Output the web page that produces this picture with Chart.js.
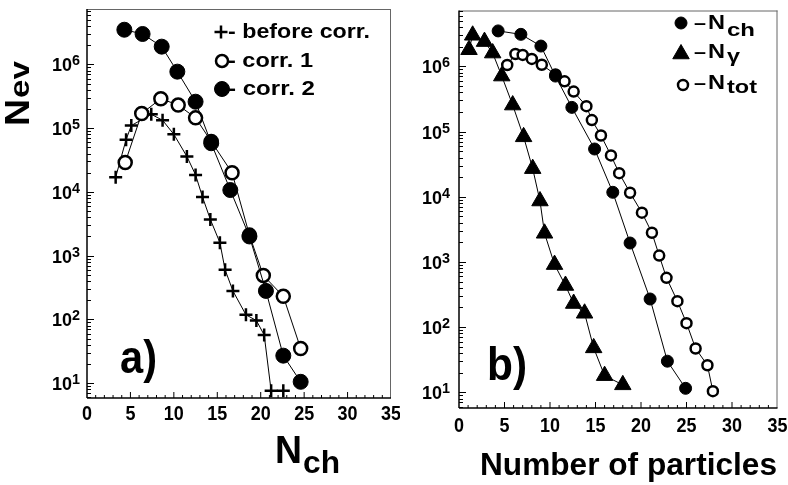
<!DOCTYPE html>
<html>
<head>
<meta charset="utf-8">
<script src="https://cdn.jsdelivr.net/npm/chart.js@4.4.1/dist/chart.umd.min.js"></script>
<style>
  body { margin: 0; background: #fff; }
  #wrap { position: relative; width: 788px; height: 485px; overflow: hidden; }
  #ca { position: absolute; left: 0; top: 0; }
  #cb { position: absolute; left: 400px; top: 0; }
</style>
</head>
<body>
<div id="wrap">
  <canvas id="ca" width="400" height="485"></canvas>
  <canvas id="cb" width="388" height="485"></canvas>
</div>
<script>
// panel a) : N_ev vs N_ch
var corr2X  = [4.3, 6.4, 8.6, 10.4, 12.5, 14.3, 16.5, 18.7, 20.6, 22.6, 24.6];
var corr2Y  = [3.5e6, 3.0e6, 1.9e6, 7.7e5, 2.6e5, 5.8e4, 1.07e4, 2.0e3, 280, 27, 10.5];
var corr1X  = [4.4, 6.3, 8.5, 10.5, 12.5, 14.3, 16.7, 18.7, 20.3, 22.6, 24.6];
var corr1Y  = [2.9e4, 1.7e5, 2.9e5, 2.3e5, 1.45e5, 6.2e4, 2.0e4, 2.1e3, 490, 230, 35];
var beforeX = [3.3, 4.5, 5.1, 7.4, 8.7, 10.0, 11.5, 12.5, 13.3, 14.2, 15.3, 15.9, 16.8, 18.3, 19.5, 20.4, 21.2, 22.6];
var beforeY = [1.7e4, 6.6e4, 1.1e5, 1.65e5, 1.33e5, 8.0e4, 3.6e4, 1.85e4, 8.3e3, 3.7e3, 1.6e3, 600, 280, 118, 96, 57, 7.6, 7.6];

// panel b) : number of particles
var nchX   = [4.3, 6.8, 9.0, 10.6, 12.4, 14.9, 16.9, 18.8, 21.0, 22.9, 24.9];
var nchY   = [3.5e6, 3.1e6, 2.05e6, 7.1e5, 2.35e5, 5.4e4, 1.17e4, 1.95e3, 270, 30, 11.5];
var ngamX  = [1.1, 1.5, 2.8, 3.7, 4.7, 5.9, 7.1, 8.1, 8.9, 9.4, 10.5, 11.7, 12.6, 13.8, 14.8, 16.0, 18.0];
var ngamY  = [1.8e6, 3.0e6, 2.4e6, 1.6e6, 7.1e5, 2.55e5, 8.3e4, 2.7e4, 8.6e3, 2.75e3, 910, 435, 230, 163, 48, 18, 13];
var ntotX  = [5.3, 6.2, 7.0, 8.0, 9.1, 10.6, 11.6, 12.6, 14.0, 14.6, 15.6, 16.7, 17.6, 18.8, 20.1, 21.2, 22.0, 22.8, 24.0, 25.0, 26.0, 27.3, 27.9];
var ntotY  = [1.05e6, 1.55e6, 1.5e6, 1.3e6, 1.06e6, 7.5e5, 5.9e5, 4.1e5, 2.45e5, 1.5e5, 8.7e4, 4.3e4, 2.3e4, 1.15e4, 5.7e3, 2.8e3, 1.25e3, 570, 250, 115, 47, 26, 10.4];

var xTicks = [0, 5, 10, 15, 20, 25, 30, 35];
var yExps  = [1, 2, 3, 4, 5, 6];

var FONT = '"Liberation Sans", Arial, sans-serif';

function pts(xs, ys) {
  return xs.map(function (x, i) { return { x: x, y: ys[i] }; });
}

// bold text, squeezed/stretched to width w if given
function txt(ctx, s, x, y, size, w, align) {
  ctx.font = 'bold ' + size + 'px ' + FONT;
  var m = ctx.measureText(s).width;
  var k = w ? w / m : 1;
  var x0 = align === 'center' ? x - m * k / 2 : (align === 'right' ? x - m * k : x);
  ctx.save();
  ctx.translate(x0, y);
  ctx.scale(k, 1);
  ctx.textAlign = 'left';
  ctx.textBaseline = 'alphabetic';
  ctx.fillStyle = '#000';
  ctx.fillText(s, 0, 0);
  ctx.restore();
}

function seg(ctx, x1, y1, x2, y2) {
  ctx.beginPath(); ctx.moveTo(x1, y1); ctx.lineTo(x2, y2); ctx.stroke();
}

function sym(ctx, style, r, x, y, fill, bw) {
  ctx.save();
  ctx.fillStyle = fill;
  ctx.strokeStyle = '#000';
  ctx.lineWidth = bw;
  Chart.helpers.drawPoint(ctx, { pointStyle: style, radius: r, borderWidth: bw, rotation: 0 }, x, y);
  ctx.restore();
}

// axes, inward ticks and labels
function axes(chart, o) {
  var ctx = chart.ctx, a = chart.chartArea, sx = chart.scales.x, sy = chart.scales.y;
  ctx.save();
  ctx.strokeStyle = '#666'; ctx.lineWidth = 1;
  seg(ctx, a.left, a.top + 0.5, a.right, a.top + 0.5);
  seg(ctx, a.right - 0.5, a.top, a.right - 0.5, a.bottom);
  ctx.strokeStyle = '#000'; ctx.lineWidth = 1.5;
  seg(ctx, a.left, a.top, a.left, a.bottom);
  seg(ctx, a.left, a.bottom, a.right, a.bottom);
  ctx.lineWidth = 1;
  for (var v = 1; v < 35; v++) {
    var px = sx.getPixelForValue(v);
    seg(ctx, px, a.bottom, px, a.bottom - (v % 5 ? 3 : 6));
  }
  for (var e = 0; e <= 7; e++) {
    for (var m = 1; m <= 9; m++) {
      var val = m * Math.pow(10, e);
      if (val < sy.min || val > sy.max) continue;
      var py = Math.round(sy.getPixelForValue(val)) + 0.5;
      seg(ctx, a.left, py, a.left + (m === 1 ? 7 : 4), py);
    }
  }
  ctx.restore();
  xTicks.forEach(function (t) {
    var s = String(t);
    txt(ctx, s, sx.getPixelForValue(t), a.bottom + o.xLab, 21, 10 * s.length, 'center');
  });
  yExps.forEach(function (e) {
    var py = sy.getPixelForValue(Math.pow(10, e));
    var xr = a.left - o.yGap;
    txt(ctx, String(e), xr, py + 1, 14, 8, 'right');
    txt(ctx, '10', xr - 8, py + 7, o.ySize, o.yW, 'right');
  });
}

var decorA = {
  id: 'decorA',
  afterDraw: function (chart) {
    var ctx = chart.ctx;
    axes(chart, { xLab: 22, yGap: 7, ySize: 18, yW: 20 });
    // N_ev, rotated
    ctx.save();
    ctx.translate(29, 126);
    ctx.rotate(-Math.PI / 2);
    txt(ctx, 'N', 0, 0, 35, 27);
    txt(ctx, 'ev', 28, 0, 28, 37);
    ctx.restore();
    // N_ch
    txt(ctx, 'N', 275, 463, 38, 27);
    txt(ctx, 'ch', 303, 473, 31, 37);
    // legend
    sym(ctx, 'cross', 6.5, 221, 32, '#000', 2.5);
    txt(ctx, '- before corr.', 228, 38, 20, 142);
    sym(ctx, 'circle', 6, 222, 61, '#fff', 2.5);
    txt(ctx, '- corr. 1', 228, 67, 20, 85);
    sym(ctx, 'circle', 7.5, 222, 89, '#000', 1);
    txt(ctx, '- corr. 2', 228, 95, 20, 87);
    txt(ctx, 'a)', 120, 373, 46, 37);
  }
};

var decorB = {
  id: 'decorB',
  afterDraw: function (chart) {
    var ctx = chart.ctx;
    axes(chart, { xLab: 24, yGap: 9, ySize: 18, yW: 20 });
    txt(ctx, 'Number of particles', 80, 475, 32, 297);
    sym(ctx, 'circle', 6, 281, 23, '#000', 1);
    txt(ctx, '\u2013', 294, 29, 18, 12);
    txt(ctx, 'N', 308, 29, 21, 17);
    txt(ctx, 'ch', 327, 36, 19, 28);
    sym(ctx, 'triangle', 9.5, 281, 54, '#000', 1);
    txt(ctx, '\u2013', 294, 58, 18, 12);
    txt(ctx, 'N', 308, 58, 21, 17);
    txt(ctx, '\u03b3', 327, 62, 19, 13);
    sym(ctx, 'circle', 5, 283, 85, '#fff', 2.5);
    txt(ctx, '\u2013', 294, 89, 18, 12);
    txt(ctx, 'N', 308, 89, 21, 17);
    txt(ctx, 'tot', 327, 93, 19, 30);
    txt(ctx, 'b)', 87, 380, 46, 40);
  }
};

function series(xs, ys, style, r, fill, bw) {
  return {
    data: pts(xs, ys),
    showLine: true,
    borderColor: '#000',
    borderWidth: 1,
    tension: 0,
    pointStyle: style,
    pointRadius: r,
    pointBackgroundColor: fill,
    pointBorderColor: '#000',
    pointBorderWidth: bw
  };
}

function panel(id, datasets, ymin, ymax, pad, yW, xH, decor) {
  return new Chart(document.getElementById(id), {
    type: 'scatter',
    data: { datasets: datasets },
    options: {
      responsive: false,
      animation: false,
      layout: { padding: pad },
      plugins: { legend: { display: false }, tooltip: { enabled: false } },
      scales: {
        x: {
          type: 'linear', min: 0, max: 35,
          ticks: { display: false },
          grid: { display: false },
          border: { display: false },
          afterFit: function (s) { s.height = xH; }
        },
        y: {
          type: 'logarithmic', min: ymin, max: ymax,
          ticks: { display: false },
          grid: { display: false },
          border: { display: false },
          afterFit: function (s) { s.width = yW; }
        }
      }
    },
    plugins: [decor]
  });
}

panel('ca', [
  series(corr2X, corr2Y, 'circle', 7.5, '#000', 1),
  series(corr1X, corr1Y, 'circle', 6.5, '#fff', 2.5),
  series(beforeX, beforeY, 'cross', 6.5, '#000', 2.5)
], 5.85, 7.4e6, { left: 0, top: 5, right: 8, bottom: 0 }, 87, 87, decorA);

panel('cb', [
  series(nchX, nchY, 'circle', 6, '#000', 1),
  series(ntotX, ntotY, 'circle', 5, '#fff', 2.5),
  series(ngamX, ngamY, 'triangle', 9.5, '#000', 1)
], 5.74, 7.2e6, { left: 0, top: 3, right: 9, bottom: 0 }, 59, 77, decorB);
</script>
</body>
</html>
